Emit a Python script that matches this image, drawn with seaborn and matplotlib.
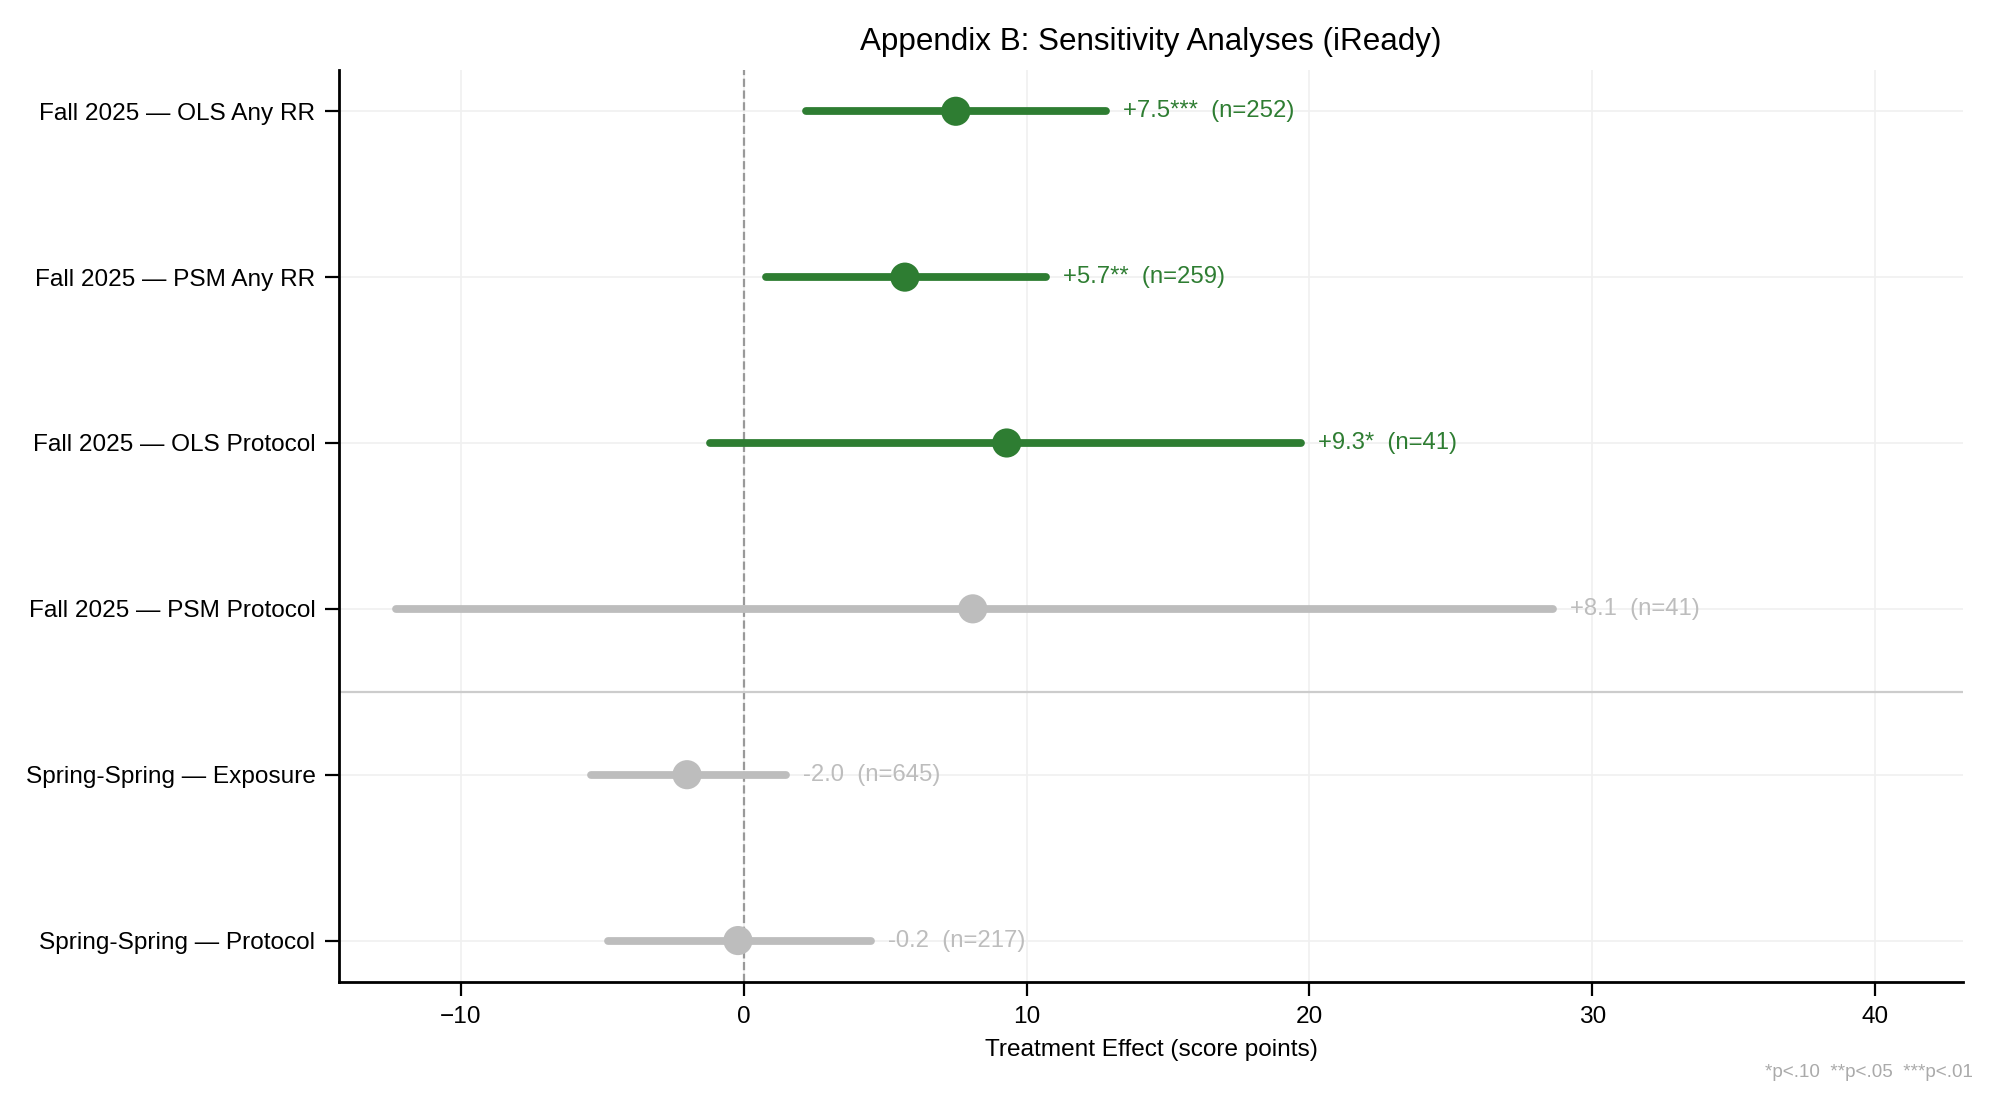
import seaborn as sns
import numpy as np
import pandas as pd
import matplotlib.pyplot as plt

# Sensitivity analysis estimates (iReady)
labels = [
    "Fall 2025 \u2014 OLS Any RR",
    "Fall 2025 \u2014 PSM Any RR",
    "Fall 2025 \u2014 OLS Protocol",
    "Fall 2025 \u2014 PSM Protocol",
    "Spring-Spring \u2014 Exposure",
    "Spring-Spring \u2014 Protocol",
]
estimates = [7.5, 5.7, 9.3, 8.1, -2.0, -0.2]
ci_low = [2.2, 0.8, -1.2, -12.3, -5.4, -4.8]
ci_high = [12.8, 10.7, 19.7, 28.6, 1.5, 4.5]
n_obs = [252, 259, 41, 41, 645, 217]
stars = ["***", "**", "*", "", "", ""]

GREEN = "#2e7d32"
GRAY = "#bdbdbd"

df = pd.DataFrame({
    "label": labels,
    "est": estimates,
    "lo": ci_low,
    "hi": ci_high,
    "n": n_obs,
    "stars": stars,
})
df["pos"] = np.arange(len(df))
df["sig"] = np.where(df["stars"] != "", "sig", "ns")

sns.set_style("white")
plt.rcParams["font.family"] = ["Liberation Sans", "DejaVu Sans"]
plt.rcParams["text.color"] = "black"
plt.rcParams["axes.labelcolor"] = "black"

fig = plt.figure(figsize=(9.995, 5.54), dpi=200)
ax = fig.add_axes([0.1696, 0.1137, 0.8124, 0.8233])

ax.grid(True, color="#f0f0f0", linewidth=0.6)
ax.set_axisbelow(True)

palette = {"sig": GREEN, "ns": GRAY}
for _, r in df.iterrows():
    ax.hlines(r["pos"], r["lo"], r["hi"], color=palette[r["sig"]],
              linewidth=2.8, capstyle="round", zorder=2)

sns.scatterplot(data=df, x="est", y="pos", hue="sig", palette=palette,
                s=110, edgecolor="none", legend=False, zorder=3, ax=ax)

for _, r in df.iterrows():
    txt = f"{r['est']:+.1f}{r['stars']}  (n={r['n']})"
    ax.text(r["hi"] + 0.6, r["pos"], txt, va="center", ha="left",
            fontsize=8.6, color=palette[r["sig"]])

ax.axvline(0, color="#999999", linestyle="--", linewidth=0.8, zorder=1)
ax.axhline(3.5, color="#cccccc", linewidth=0.8, zorder=1)

ax.set_xlim(-14.3, 43.1)
ax.set_ylim(len(df) - 0.75, -0.25)
ax.set_yticks(df["pos"])
ax.set_yticklabels(labels)
ax.set_xticks([-10, 0, 10, 20, 30, 40])
ax.set_xticklabels(["\u221210", "0", "10", "20", "30", "40"])
ax.tick_params(axis="both", labelsize=8.8, length=5, width=0.8,
               direction="out", left=True, bottom=True, colors="black")

sns.despine(ax=ax)
for sp in ["left", "bottom"]:
    ax.spines[sp].set_color("black")
    ax.spines[sp].set_linewidth(1.0)

ax.set_xlabel("Treatment Effect (score points)", fontsize=8.8)
ax.set_ylabel("")
ax.set_title("Appendix B: Sensitivity Analyses (iReady)", fontsize=11.3,
             pad=7, color="black")

fig.text(0.987, 0.032, "*p<.10  **p<.05  ***p<.01", ha="right", va="center",
         fontsize=6.8, color="#aaaaaa")

fig.savefig("out.png", dpi=200)
